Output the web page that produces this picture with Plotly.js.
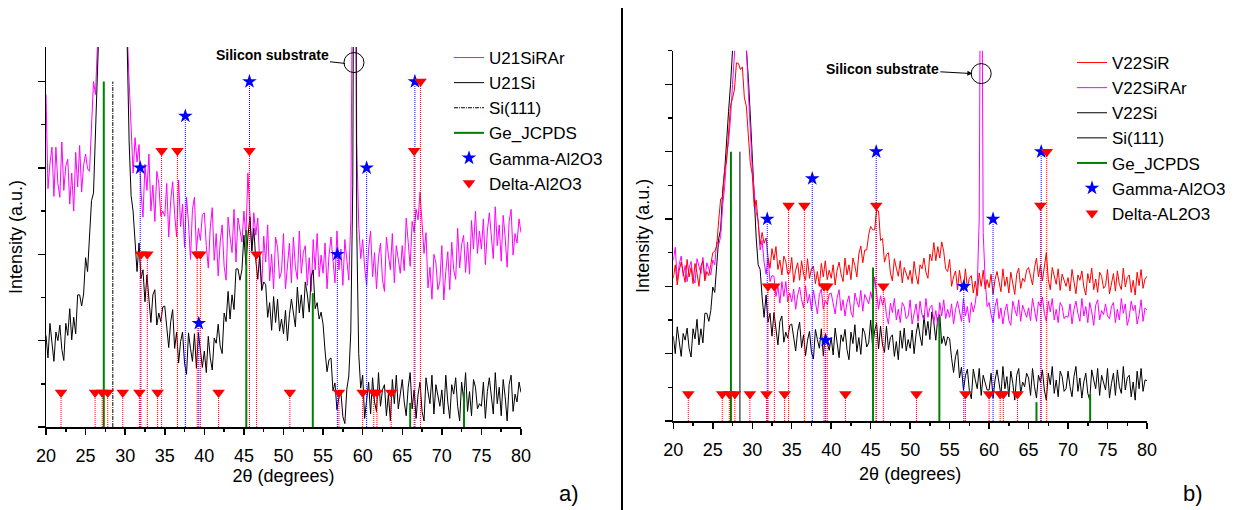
<!DOCTYPE html>
<html><head><meta charset="utf-8">
<script src="https://cdn.plot.ly/plotly-3.0.1.min.js"></script>
<style>html,body{margin:0;padding:0;background:#fff}#chart{width:1238px;height:510px}</style>
</head><body><div id="chart"></div>
<script>
// 2-theta measurement grid: 20 .. 80 degrees, step 0.25 (one row below = 5 degrees)
const thetaStart = 20, thetaStep = 0.25;

// ---- Panel a) intensities (a.u.) ----
const u21SiRAr = [
385,276,305,324,267,324,282,266,330,274,302,310,258,294,250,318,278,326,272,303,
316,299,296,357,400,385,430,480,560,680,760,800,790,760,720,680,640,600,560,520,
490,460,400,342,294,335,307,327,272,243,304,274,316,250,280,238,296,282,244,250,
244,282,220,262,284,246,220,286,232,258,208,266,236,194,252,266,204,230,216,246,
248,210,184,231,254,193,224,175,214,234,186,170,243,220,202,252,191,242,226,214,
250,220,294,242,204,248,222,242,188,160,221,191,234,169,200,160,220,208,172,180,
224,160,192,213,167,220,185,171,227,178,202,210,164,196,157,217,182,224,174,199,
178,213,160,199,220,188,167,227,182,206,164,217,195,170,240,420,950,330,235,195,
217,185,164,206,227,174,202,160,196,213,171,157,220,199,182,224,167,210,192,178,
210,181,242,208,186,238,226,252,240,272,239,201,225,161,185,148,200,190,159,168,
210,147,180,203,159,214,182,171,230,184,211,222,179,214,177,239,206,250,201,227,
206,241,188,227,248,216,195,255,210,234,192,245,220,185,238,252,199,224,213,241,
225];
const u21Si = [
106,80,120,93,76,110,100,118,90,77,120,106,137,101,127,108,153,153,140,154,
196,180,220,262,271,346,400,490,600,700,780,820,830,810,770,710,650,590,540,495,
470,445,330,268,250,210,180,213,172,182,145,176,152,121,153,159,118,132,122,139,
140,111,92,122,136,91,110,74,99,110,74,61,109,91,76,108,68,109,85,69,
88,63,105,80,66,103,97,119,94,85,132,122,157,125,153,136,183,183,170,182,
222,188,220,243,204,230,193,171,201,158,168,165,127,144,112,151,121,148,111,125,
108,135,100,130,148,129,116,162,132,153,126,168,154,133,174,182,137,144,125,133,
119,88,64,78,80,42,51,20,34,40,12,4,44,59,110,280,900,230,85,45,
60,10,35,52,15,57,29,18,63,24,43,49,13,38,7,55,27,60,21,41,
55,29,13,46,63,21,43,10,38,52,18,7,57,41,27,60,15,49,35,24,
43,15,60,29,10,49,38,57,24,7,52,32,63,18,41,13,55,46,21,27,
24,52,10,41,57,32,15,63,27,46,13,55,35,7,49,60,18,38,29,52,
40];

// ---- Panel b) intensities (a.u.) ----
const v22SiR = [
212,232,202,224,236,218,206,240,214,228,204,234,220,200,230,238,208,222,216,232,
250,252,260,298,330,332,374,386,432,469,479,493,532,531,522,526,480,468,425,384,
366,318,328,289,262,280,264,272,243,227,256,239,259,225,239,217,245,237,218,220,
243,206,224,235,209,238,218,209,241,212,226,230,204,222,200,234,214,238,210,224,
212,232,202,224,236,218,207,242,217,232,210,242,231,214,248,260,235,254,254,277,
289,284,284,313,312,268,271,236,247,250,220,208,241,227,215,238,205,228,218,210,
224,204,237,216,203,232,226,242,221,212,248,238,265,238,259,242,266,252,226,222,
240,200,214,223,195,224,203,194,226,198,212,216,190,208,186,220,200,224,196,210,
198,218,188,210,222,204,192,226,200,214,190,221,207,188,218,227,197,212,207,224,
228,212,202,228,242,214,231,208,230,250,210,195,228,214,203,226,194,218,208,200,
213,193,225,203,189,217,209,223,199,187,219,205,227,195,211,191,221,215,197,201,
225,189,207,219,193,223,203,195,227,199,213,217,191,209,187,221,201,225,197,211,
215];
const v22SiRAr = [
239,258,209,233,245,215,231,207,227,237,213,205,241,229,219,243,211,235,225,217,
239,232,266,262,274,320,347,392,415,450,500,540,600,650,680,660,610,560,490,430,
375,340,310,297,254,268,236,218,242,207,216,215,185,200,175,207,185,207,177,190,
177,196,166,187,199,180,168,201,175,188,164,194,179,159,188,196,166,179,173,189,
190,172,159,183,195,164,180,156,176,186,162,154,190,178,169,194,163,188,180,174,
192,178,214,188,166,186,172,183,157,144,175,161,182,150,166,146,176,170,152,156,
180,144,162,174,148,178,158,150,182,154,168,172,146,164,142,176,156,180,152,166,
154,174,144,166,178,160,148,182,156,170,146,176,162,175,200,300,950,280,210,170,
176,158,146,170,182,152,168,144,164,174,150,142,178,166,156,180,148,172,162,154,
168,149,182,161,148,177,170,184,160,148,178,162,182,150,166,146,176,170,152,156,
154,174,144,166,178,160,148,182,156,170,146,176,162,142,172,180,150,164,158,174,
156,152,170,176,146,166,150,182,160,174,142,154,178,164,172,144,158,180,148,168,
165];
const v22Si = [
126,100,140,113,96,130,120,138,108,95,137,122,151,113,137,116,160,160,148,164,
199,191,230,271,285,342,370,420,460,500,545,600,680,700,680,640,600,560,510,455,
390,330,272,232,225,184,154,187,147,160,126,161,140,113,148,156,117,132,123,142,
144,120,104,133,147,109,128,97,120,133,102,92,136,121,108,137,97,127,115,105,
124,98,138,111,94,128,118,136,106,91,132,115,143,103,124,99,138,131,110,116,
150,110,134,145,107,141,113,102,141,106,124,128,96,118,91,134,108,138,104,121,
108,135,100,129,146,126,112,157,127,148,121,162,146,120,153,158,115,126,112,125,
122,93,72,96,106,64,80,46,67,77,45,33,77,61,48,78,38,68,56,46,
46,71,34,61,76,54,38,81,48,66,36,74,56,31,68,78,41,58,51,71,
64,38,78,51,34,68,58,76,46,31,71,54,81,41,61,36,74,66,44,48,
74,51,36,66,81,44,64,34,58,71,41,31,76,61,48,78,38,68,56,46,
78,34,56,71,38,76,51,41,81,46,64,68,36,58,31,74,48,78,44,61,
60];

// ---- Reference patterns (positions in degrees, stick heights in a.u.) ----
const siPos = [28.44];
const siHeight = [400];
const gePos = [27.3, 45.3, 53.7, 66.0, 72.8];
const geHeight = [400, 228, 155, 28, 40];
const gammaPos = [31.9, 37.6, 39.3, 45.7, 56.8, 60.5, 66.6];
const gammaHeight = [300, 360, 120, 400, 200, 300, 400];
const deltaPos = [21.9, 26.2, 27.1, 27.8, 29.7, 31.8, 32.0, 32.8, 34.1, 34.6, 36.6, 39.1,
                  39.5, 41.8, 45.7, 46.6, 50.8, 57.0, 60.0, 61.4, 61.8, 63.6, 66.5, 67.3];
const deltaHeight = [40, 40, 40, 40, 40, 40, 200, 200, 40, 320, 320, 200,
                     200, 40, 320, 200, 40, 40, 40, 40, 40, 40, 320, 400];

const twoTheta = u21Si.map((_, i) => thetaStart + thetaStep * i);

function sticks(pos, h) {
  const x = [], y = [];
  pos.forEach((p, i) => { x.push(p, p, null); y.push(0, h[i], null); });
  return {x, y};
}

const FONT = 'Liberation Sans, Arial, sans-serif';
const W = 1238, H = 510;
const px = v => v / W, py = v => 1 - v / H;

function panel(xa, ya, lg, series, siDash) {
  const tr = [];
  series.forEach(s => tr.push({
    type: 'scatter', mode: 'lines', x: twoTheta, y: s.y, name: s.name,
    line: {color: s.color, width: 1}, xaxis: xa, yaxis: ya, legend: lg, legendrank: s.rank
  }));
  const si = sticks(siPos, siHeight);
  tr.push({type:'scatter', mode:'lines', x: si.x, y: si.y, name:'Si(111)', xaxis:xa, yaxis:ya, legend:lg,
    legendrank: 10, line:{color:'#000', width:1, dash: siDash}});
  const ge = sticks(gePos, geHeight);
  tr.push({type:'scatter', mode:'lines', x: ge.x, y: ge.y, name:'Ge_JCPDS', xaxis:xa, yaxis:ya, legend:lg,
    legendrank: 11, line:{color:'#008000', width:2}});
  const ga = sticks(gammaPos, gammaHeight);
  tr.push({type:'scatter', mode:'lines', x: ga.x, y: ga.y, showlegend:false, xaxis:xa, yaxis:ya,
    line:{color:'#0000ff', width:1, dash:'1px,1px'}, hoverinfo:'skip'});
  const de = sticks(deltaPos, deltaHeight);
  tr.push({type:'scatter', mode:'lines', x: de.x, y: de.y, showlegend:false, xaxis:xa, yaxis:ya,
    line:{color:'#ff0000', width:1, dash:'1px,1px'}, hoverinfo:'skip'});
  tr.push({type:'scatter', mode:'markers', x: gammaPos, y: gammaHeight, name: series.gammaName, xaxis:xa, yaxis:ya,
    legend:lg, legendrank: 12, marker:{symbol:'star', size:11, color:'#0000ff'}});
  tr.push({type:'scatter', mode:'markers', x: deltaPos, y: deltaHeight, name: series.deltaName, xaxis:xa, yaxis:ya,
    legend:lg, legendrank: 13, marker:{symbol:'triangle-down', size:11, color:'#ff0000'}});
  return tr;
}

const seriesA = [
  {name:'U21SiRAr', y:u21SiRAr, color:'#ff00ff', rank:1},
  {name:'U21Si', y:u21Si, color:'#000000', rank:2}
];
seriesA.gammaName = 'Gamma-Al2O3'; seriesA.deltaName = 'Delta-Al2O3';
const seriesB = [
  {name:'V22Si', y:v22Si, color:'#000000', rank:3},
  {name:'V22SiRAr', y:v22SiRAr, color:'#ff00ff', rank:2},
  {name:'V22SiR', y:v22SiR, color:'#ff0000', rank:1}
];
seriesB.gammaName = 'Gamma-Al2O3'; seriesB.deltaName = 'Delta-AL2O3';

const data = panel('x', 'y', 'legend', seriesA, '4px,1px,1px,1px')
  .concat(panel('x2', 'y2', 'legend2', seriesB, 'solid'));

const xCommon = {range:[20,80], dtick:5, tick0:20, ticks:'outside', ticklen:6, tickwidth:1.5, tickcolor:'#000',
  showline:true, linecolor:'#000', linewidth:1.5, showgrid:false, zeroline:false, ticklabelstandoff:6,
  tickfont:{family:FONT, size:18, color:'#000'},
  minor:{dtick:2.5, tick0:20, ticks:'outside', ticklen:3, tickwidth:1.5, tickcolor:'#000', showgrid:false}};
const yCommon = {ticks:'outside', ticklen:7, tickwidth:1.5, tickcolor:'#000', showticklabels:false,
  showline:true, linecolor:'#000', linewidth:1.5, showgrid:false, zeroline:false, dtick:100, tick0:0,
  minor:{dtick:50, ticks:'outside', ticklen:4, tickwidth:1.5, tickcolor:'#000', showgrid:false}};

const legendCommon = {xanchor:'left', yanchor:'top', bgcolor:'rgba(0,0,0,0)', borderwidth:0,
  font:{family:FONT, size:17, color:'#000'}, traceorder:'normal'};

const layout = {
  width: W, height: H, margin:{l:0, r:0, t:0, b:0}, paper_bgcolor:'#fff', plot_bgcolor:'#fff',
  showlegend: true,
  xaxis: Object.assign({}, xCommon, {domain:[px(46), px(521)], anchor:'y',
    title:{text:'2θ (degrees)', font:{family:FONT, size:18, color:'#000'}, standoff:0}}),
  yaxis: Object.assign({}, yCommon, {domain:[py(427), py(47)], range:[0,440], anchor:'x',
    title:{text:'Intensity (a.u.)', font:{family:FONT, size:18, color:'#000'}, standoff:10}}),
  xaxis2: Object.assign({}, xCommon, {domain:[px(673.3), px(1147)], anchor:'y2',
    title:{text:'2θ (degrees)', font:{family:FONT, size:18, color:'#000'}, standoff:8}}),
  yaxis2: Object.assign({}, yCommon, {domain:[py(421), py(50.7)], range:[0,550], anchor:'x2',
    title:{text:'Intensity (a.u.)', font:{family:FONT, size:18, color:'#000'}, standoff:10}}),
  legend: Object.assign({}, legendCommon, {x: px(449), y: py(40)}),
  legend2: Object.assign({}, legendCommon, {x: px(1072), y: py(45)}),
  shapes: [
    {type:'line', xref:'paper', yref:'paper', x0:px(622), x1:px(622), y0:0, y1:py(8), line:{color:'#000', width:2}},
    {type:'circle', xref:'x', yref:'y', xsizemode:'pixel', ysizemode:'pixel', xanchor:58.9, yanchor:422,
      x0:-10, x1:10, y0:-10, y1:10, line:{color:'#000', width:1}},
    {type:'circle', xref:'x2', yref:'y2', xsizemode:'pixel', ysizemode:'pixel', xanchor:59.0, yanchor:516,
      x0:-10, x1:10, y0:-10, y1:10, line:{color:'#000', width:1}}
  ],
  annotations: [
    {xref:'x', yref:'y', x:57.77, y:421, ax:-73, ay:-8, text:'<b>Silicon substrate</b>', showarrow:true,
      arrowhead:0, arrowwidth:1, arrowcolor:'#000', font:{family:FONT, size:14, color:'#000'}},
    {xref:'x2', yref:'y2', x:57.88, y:516, ax:-90, ay:-5, text:'<b>Silicon substrate</b>', showarrow:true,
      arrowhead:2, arrowsize:1, arrowwidth:1, arrowcolor:'#000', font:{family:FONT, size:14, color:'#000'}},
    {xref:'paper', yref:'paper', x:px(569), y:py(493), xanchor:'center', yanchor:'middle', text:'a)', showarrow:false,
      font:{family:FONT, size:22, color:'#000'}},
    {xref:'paper', yref:'paper', x:px(1193), y:py(493), xanchor:'center', yanchor:'middle', text:'b)', showarrow:false,
      font:{family:FONT, size:22, color:'#000'}}
  ]
};

Plotly.newPlot('chart', data, layout, {displayModeBar:false, staticPlot:true});
</script>
</body></html>
